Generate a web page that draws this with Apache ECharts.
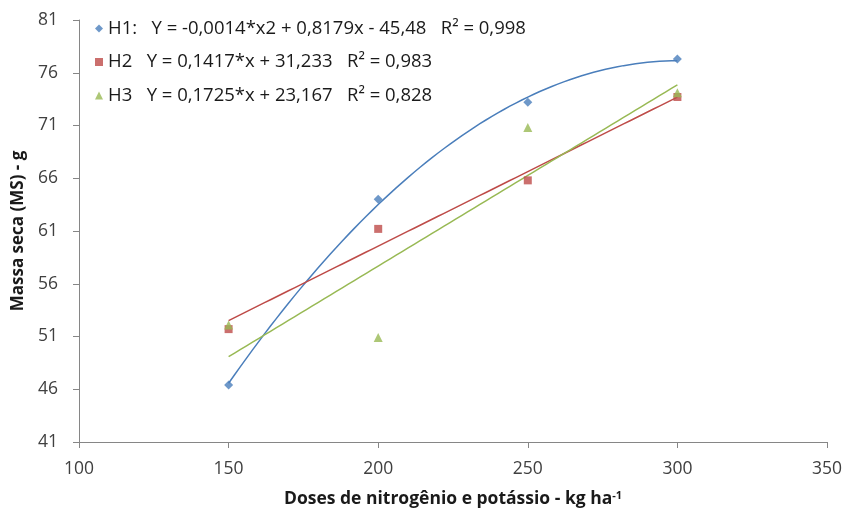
<!DOCTYPE html>
<html>
<head>
<meta charset="utf-8">
<script src="https://cdn.jsdelivr.net/npm/echarts@6/dist/echarts.min.js"></script>
<style>
  html, body { margin: 0; padding: 0; background: #fff; }
  #chart { width: 850px; height: 511px; }
</style>
</head>
<body>
<div id="chart"></div>
<script>
// Nitrogen + potassium doses (kg/ha)
const doses = [150, 200, 250, 300];
// Dry mass (g) per treatment
const h1 = [46.4, 64.0, 73.2, 77.3];
const h2 = [51.7, 61.2, 65.8, 73.7];
const h3 = [52.1, 50.9, 70.8, 74.1];

const names = [
  'H1:   Y = -0,0014*x2 + 0,8179x - 45,48   R² = 0,998',
  'H2   Y = 0,1417*x + 31,233   R² = 0,983',
  'H3   Y = 0,1725*x + 23,167   R² = 0,828'
];
const xTicks = [100, 150, 200, 250, 300, 350];
const yTicks = [41, 46, 51, 56, 61, 66, 71, 76, 81];

const colors = ['#4a7ebb', '#be4b48', '#98b954'];

// Least-squares polynomial fit (degree 1 or 2) via normal equations
function polyfit(xs, ys, deg) {
  const n = deg + 1;
  const A = [], b = [];
  for (let i = 0; i < n; i++) {
    A.push([]);
    for (let j = 0; j < n; j++) {
      A[i].push(xs.reduce((s, x) => s + Math.pow(x, i + j), 0));
    }
    b.push(xs.reduce((s, x, k) => s + ys[k] * Math.pow(x, i), 0));
  }
  for (let c = 0; c < n; c++) {
    for (let r = c + 1; r < n; r++) {
      const f = A[r][c] / A[c][c];
      for (let k = c; k < n; k++) A[r][k] -= f * A[c][k];
      b[r] -= f * b[c];
    }
  }
  const coef = new Array(n).fill(0);
  for (let r = n - 1; r >= 0; r--) {
    let s = b[r];
    for (let k = r + 1; k < n; k++) s -= A[r][k] * coef[k];
    coef[r] = s / A[r][r];
  }
  return coef;
}
function trend(ys, deg) {
  const c = polyfit(doses, ys, deg);
  const pts = [];
  for (let x = doses[0]; x <= doses[doses.length - 1] + 0.001; x += 2) {
    let y = 0;
    c.forEach((v, i) => { y += v * Math.pow(x, i); });
    pts.push([x, y]);
  }
  return pts;
}

const series = [];
const symbols = ['diamond', 'rect', 'triangle'];
const sizes = [9, 8, 9];
[h1, h2, h3].forEach((ys, i) => {
  series.push({
    name: 'trend ' + (i + 1),
    type: 'line',
    data: trend(ys, i === 0 ? 2 : 1),
    showSymbol: false,
    symbol: 'none',
    lineStyle: { color: colors[i], width: 1.5 },
    silent: true,
    z: 2
  });
});
[h1, h2, h3].forEach((ys, i) => {
  series.push({
    name: names[i],
    type: 'scatter',
    data: doses.map((x, k) => [x, ys[k]]),
    symbol: symbols[i],
    symbolSize: sizes[i],
    itemStyle: { color: colors[i] },
    z: 3
  });
});

const chart = echarts.init(document.getElementById('chart'));
chart.setOption({
  animation: false,
  backgroundColor: '#ffffff',
  textStyle: { fontFamily: 'Open Sans' },
  grid: { left: 79, right: 23, top: 20, bottom: 69, outerBoundsMode: 'none', containLabel: false },
  legend: {
    data: names.map((n, i) => ({ name: n, icon: symbols[i], itemStyle: { color: colors[i] } })),
    orient: 'vertical',
    left: 90,
    top: 13,
    itemWidth: 8,
    itemHeight: 8,
    itemGap: 12.5,
    textStyle: { fontSize: 18.5, lineHeight: 21, color: '#1a1a1a', fontFamily: 'Open Sans' }
  },
  xAxis: {
    type: 'value',
    min: xTicks[0],
    max: xTicks[xTicks.length - 1],
    interval: 50,
    name: 'Doses de nitrogênio e potássio - kg ha{sup|-1}',
    nameLocation: 'middle',
    nameGap: 48,
    nameTextStyle: {
      fontSize: 17.5, fontWeight: 'bold', color: '#1a1a1a',
      rich: { sup: { fontSize: 11, fontWeight: 'bold', verticalAlign: 'top', padding: [0, 0, 8, 0], color: '#1a1a1a' } }
    },
    axisLine: { lineStyle: { color: '#868686', width: 1 } },
    axisTick: { show: true, length: 6, lineStyle: { color: '#868686' } },
    axisLabel: { fontSize: 17.5, color: '#404040', margin: 18 },
    splitLine: { show: false }
  },
  yAxis: {
    type: 'value',
    min: yTicks[0],
    max: yTicks[yTicks.length - 1],
    interval: 5,
    name: 'Massa seca (MS) - g',
    nameLocation: 'middle',
    nameGap: 52,
    nameTextStyle: { fontSize: 17, fontWeight: 'bold', color: '#1a1a1a' },
    axisLine: { show: true, lineStyle: { color: '#868686', width: 1 } },
    axisTick: { show: true, length: 6, lineStyle: { color: '#868686' } },
    axisLabel: { fontSize: 17.5, color: '#404040', margin: 21 },
    splitLine: { show: false }
  },
  series: series
});
</script>
</body>
</html>
